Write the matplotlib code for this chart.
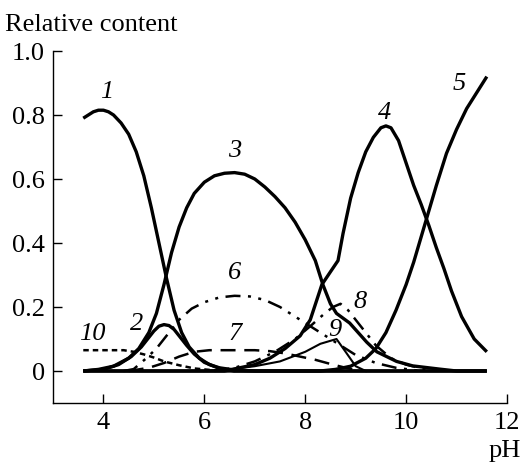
import matplotlib
matplotlib.use("Agg")
from matplotlib import pyplot as plt

plt.rcParams['font.family'] = ['Liberation Serif', 'DejaVu Serif']

# curves (pH, relative content)
x1 = [3.6, 3.7, 3.8, 3.9, 4.0, 4.1, 4.2, 4.35, 4.5, 4.65, 4.8, 4.95, 5.1, 5.25,
      5.4, 5.55, 5.7, 5.9, 6.1, 6.3, 6.6, 7.0, 11.6]
y1 = [0.79, 0.80, 0.81, 0.815, 0.815, 0.81, 0.80, 0.775, 0.74, 0.685, 0.61, 0.51,
      0.40, 0.29, 0.19, 0.12, 0.075, 0.04, 0.02, 0.01, 0.003, 0.0, 0.0]

x2 = [3.6, 4.0, 4.3, 4.55, 4.75, 4.9, 5.0, 5.1, 5.2, 5.3, 5.4, 5.5, 5.65, 5.8, 6.0,
      6.3, 6.6, 11.6]
y2 = [0.0, 0.005, 0.02, 0.045, 0.075, 0.105, 0.125, 0.14, 0.145, 0.142, 0.13, 0.11,
      0.08, 0.053, 0.027, 0.008, 0.0, 0.0]

x3 = [3.6, 3.9, 4.2, 4.5, 4.7, 4.9, 5.05, 5.2, 5.35, 5.5, 5.65, 5.8, 6.0, 6.2, 6.4,
      6.6, 6.8, 7.0, 7.2, 7.4, 7.6, 7.8, 8.0, 8.2, 8.35, 8.5, 8.62, 8.88, 9.22, 9.42,
      9.81, 10.13, 10.66, 11.0, 11.6]
y3 = [0.0, 0.005, 0.015, 0.04, 0.07, 0.12, 0.18, 0.27, 0.37, 0.45, 0.51, 0.555, 0.59,
      0.61, 0.618, 0.62, 0.615, 0.60, 0.575, 0.545, 0.51, 0.465, 0.41, 0.345, 0.27,
      0.21, 0.18, 0.15, 0.09, 0.06, 0.03, 0.016, 0.006, 0.0, 0.0]

x4 = [3.6, 6.4, 6.7, 7.0, 7.3, 7.6, 7.9, 8.1, 8.33, 8.5, 8.65, 8.75, 8.9, 9.05, 9.2,
      9.35, 9.5, 9.6, 9.7, 9.85, 10.0, 10.15, 10.3, 10.45, 10.6, 10.75, 10.9, 11.1,
      11.35, 11.6]
y4 = [0.0, 0.0, 0.01, 0.02, 0.04, 0.07, 0.11, 0.16, 0.27, 0.31, 0.345, 0.43, 0.54,
      0.62, 0.685, 0.73, 0.76, 0.766, 0.76, 0.72, 0.65, 0.58, 0.52, 0.455, 0.385,
      0.32, 0.25, 0.17, 0.1, 0.06]

x5 = [3.6, 8.3, 8.6, 8.9, 9.2, 9.4, 9.6, 9.8, 10.0, 10.15, 10.3, 10.45, 10.6, 10.8,
      11.0, 11.2, 11.4, 11.6]
y5 = [0.0, 0.0, 0.005, 0.015, 0.04, 0.07, 0.12, 0.19, 0.27, 0.34, 0.42, 0.5, 0.58,
      0.68, 0.755, 0.82, 0.87, 0.92]

x6 = [4.4, 4.6, 4.85, 5.05, 5.25, 5.5, 5.75, 6.0, 6.3, 6.6, 6.9, 7.2, 7.5, 7.8, 8.1,
      8.4, 8.7, 9.0, 9.4, 9.8, 10.3]
y6 = [0.0, 0.006, 0.04, 0.07, 0.11, 0.16, 0.195, 0.215, 0.23, 0.235, 0.233, 0.222,
      0.2, 0.17, 0.14, 0.11, 0.08, 0.05, 0.025, 0.01, 0.0]

x7 = [4.5, 4.9, 5.2, 5.5, 5.8, 6.1, 6.6, 7.0, 7.3, 7.6, 7.9, 8.2, 8.5, 8.8, 9.1]
y7 = [0.0, 0.01, 0.025, 0.045, 0.06, 0.065, 0.065, 0.065, 0.062, 0.055, 0.045, 0.035,
      0.022, 0.01, 0.0]

x8 = [6.2, 6.6, 7.0, 7.4, 7.8, 8.1, 8.35, 8.55, 8.7, 8.85, 9.0, 9.2, 9.4, 9.7, 10.0, 10.4]
y8 = [0.0, 0.01, 0.03, 0.06, 0.1, 0.14, 0.175, 0.2, 0.21, 0.19, 0.16, 0.12, 0.08,
      0.04, 0.02, 0.005]

x9 = [6.0, 6.5, 7.0, 7.5, 8.0, 8.3, 8.62, 8.8, 9.0, 9.2]
y9 = [0.0, 0.005, 0.015, 0.03, 0.06, 0.085, 0.1, 0.06, 0.015, 0.0]

x10 = [3.6, 4.0, 4.4, 4.6, 4.8, 5.0, 5.2, 5.5, 5.8, 6.2, 6.6]
y10 = [0.065, 0.065, 0.065, 0.06, 0.052, 0.042, 0.03, 0.018, 0.008, 0.002, 0.0]

# curve labels and where they sit
labels = ['1', '2', '3', '4', '5', '6', '7', '8', '9', '10']
label_x = [4.07, 4.66, 6.6, 9.57, 11.06, 6.6, 6.6, 9.08, 8.58, 3.78]
label_y = [0.875, 0.15, 0.69, 0.81, 0.9, 0.31, 0.12, 0.22, 0.13, 0.12]

fig = plt.figure(figsize=(5.23, 4.64), dpi=100)
ax = fig.add_axes([53/523, 1 - 404/464, (507 - 53)/523, (404 - 52)/464])

solid = dict(color='black', lw=2.4, solid_capstyle='butt')
ax.plot(x1, y1, **solid)
ax.plot(x2, y2, **solid)
ax.plot(x3, y3, **solid)
ax.plot(x4, y4, **solid)
ax.plot(x5, y5, **solid)
ax.plot(x6, y6, color='black', lw=1.8, linestyle=(0, (6, 3, 1.2, 3, 1.2, 3)))
ax.plot(x7, y7, color='black', lw=1.8, linestyle=(0, (6, 3.5)))
ax.plot(x8, y8, color='black', lw=1.8, linestyle=(0, (6, 3, 1.2, 3)))
ax.plot(x9, y9, color='black', lw=1.5)
ax.plot(x10, y10, color='black', lw=1.8, linestyle=(0, (2.2, 1.6)))

for t, lx, ly in zip(labels, label_x, label_y):
    ax.text(lx, ly, t, style='italic', fontsize=19, ha='center', va='center')

ax.set_xlim(3, 12)
ax.set_ylim(-0.1, 1.0)
ax.set_xticks([4, 6, 8, 10, 12])
ax.set_yticks([0, 0.2, 0.4, 0.6, 0.8, 1.0])
ax.set_yticklabels(['0', '0.2', '0.4', '0.6', '0.8', '1.0'])
ax.tick_params(direction='in', length=6.5, width=1, labelsize=19, pad=6)
ax.spines['top'].set_visible(False)
ax.spines['right'].set_visible(False)
for s in ['left', 'bottom']:
    ax.spines[s].set_linewidth(1)

fig.text(5/523, 1 - 25/464, 'Relative content', fontsize=19, ha='left', va='center')
fig.text(521/523, 1 - 451/464, 'pH', fontsize=19, ha='right', va='center')

fig.savefig('out.png', dpi=100)
